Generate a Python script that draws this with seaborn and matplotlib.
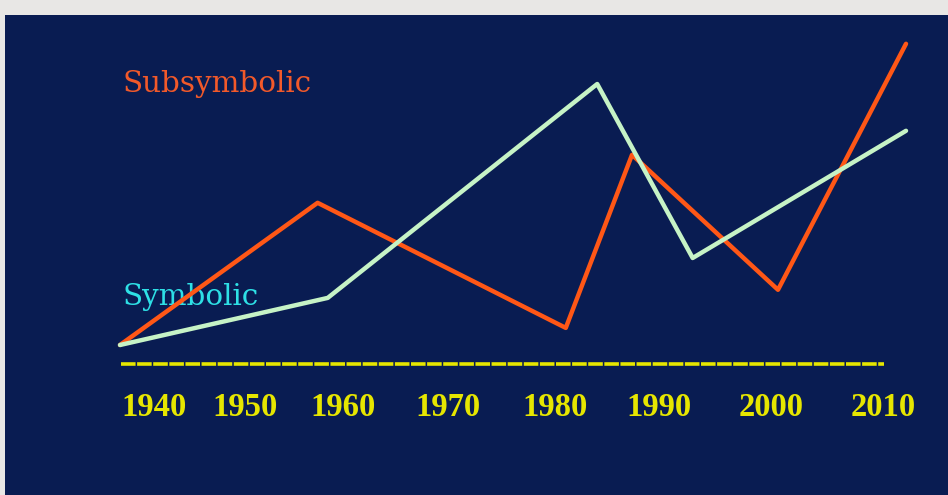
import matplotlib
matplotlib.use("Agg")
import matplotlib.pyplot as plt
import seaborn as sns
import pandas as pd

# ---- data (years, relative prominence) ----
sub_years = [1940, 1957.6, 1979.7, 1985.6, 1998.6, 2010]
sub_vals = [0.63, 5.37, 1.2, 6.97, 2.47, 10.67]
sym_years = [1940, 1958.5, 1982.5, 1991.0, 2010]
sym_vals = [0.63, 2.2, 9.33, 3.53, 7.77]
tick_labels = ["1940", "1950", "1960", "1970", "1980", "1990", "2000", "2010"]
series_names = ["Subsymbolic", "Symbolic"]

# layout (label positions along the axis)
label_x = [1943.0, 1951.1, 1959.9, 1969.2, 1978.7, 1988.0, 1998.0, 2008.0]

df = pd.concat([
    pd.DataFrame({"year": sub_years, "value": sub_vals, "series": series_names[0]}),
    pd.DataFrame({"year": sym_years, "value": sym_vals, "series": series_names[1]}),
], ignore_index=True)

sns.set_theme(style="white")
plt.rcParams["lines.scale_dashes"] = False

NAVY = "#091C52"
ORANGE = "#FF5716"
GREEN = "#C6F3C6"
CYAN = "#2EE0E6"
YELLOW = "#E6E600"
TEXT_ORANGE = "#F2592A"

fig = plt.figure(figsize=(9.48, 4.95), dpi=100)
fig.patch.set_facecolor("#E8E7E5")
ax = fig.add_axes([5 / 948, 0, 943 / 948, 480 / 495])
ax.set_facecolor(NAVY)
for s in ax.spines.values():
    s.set_visible(False)

sns.lineplot(data=df, x="year", y="value", hue="series", sort=False,
             estimator=None, palette={series_names[0]: ORANGE, series_names[1]: GREEN},
             linewidth=3.2, legend=False, ax=ax, zorder=3)

ax.set_xlim(1929.76, 2013.74)
ax.set_ylim(-4.37, 11.63)
ax.set_xticks([])
ax.set_yticks([])
ax.set_xlabel("")
ax.set_ylabel("")

# dashed baseline
ax.hlines(0, 1940.05, 2008.0, colors=YELLOW, linewidth=2.6,
          linestyles=[(0, (10.5, 1.1))], zorder=2)

for x, lab in zip(label_x, tick_labels):
    ax.text(x, -1.45, lab, color=YELLOW, ha="center", va="center",
            fontsize=23.5, fontweight="bold", family=["Liberation Serif"], zorder=2)

ax.text(1940.2, 9.33, series_names[0], color=TEXT_ORANGE, ha="left", va="center",
        fontsize=21.2, family=["DejaVu Serif"], zorder=1)
ax.text(1940.2, 2.23, series_names[1], color=CYAN, ha="left", va="center",
        fontsize=21.2, family=["DejaVu Serif"], zorder=1)

fig.savefig("out.png", dpi=100, facecolor=fig.get_facecolor())
